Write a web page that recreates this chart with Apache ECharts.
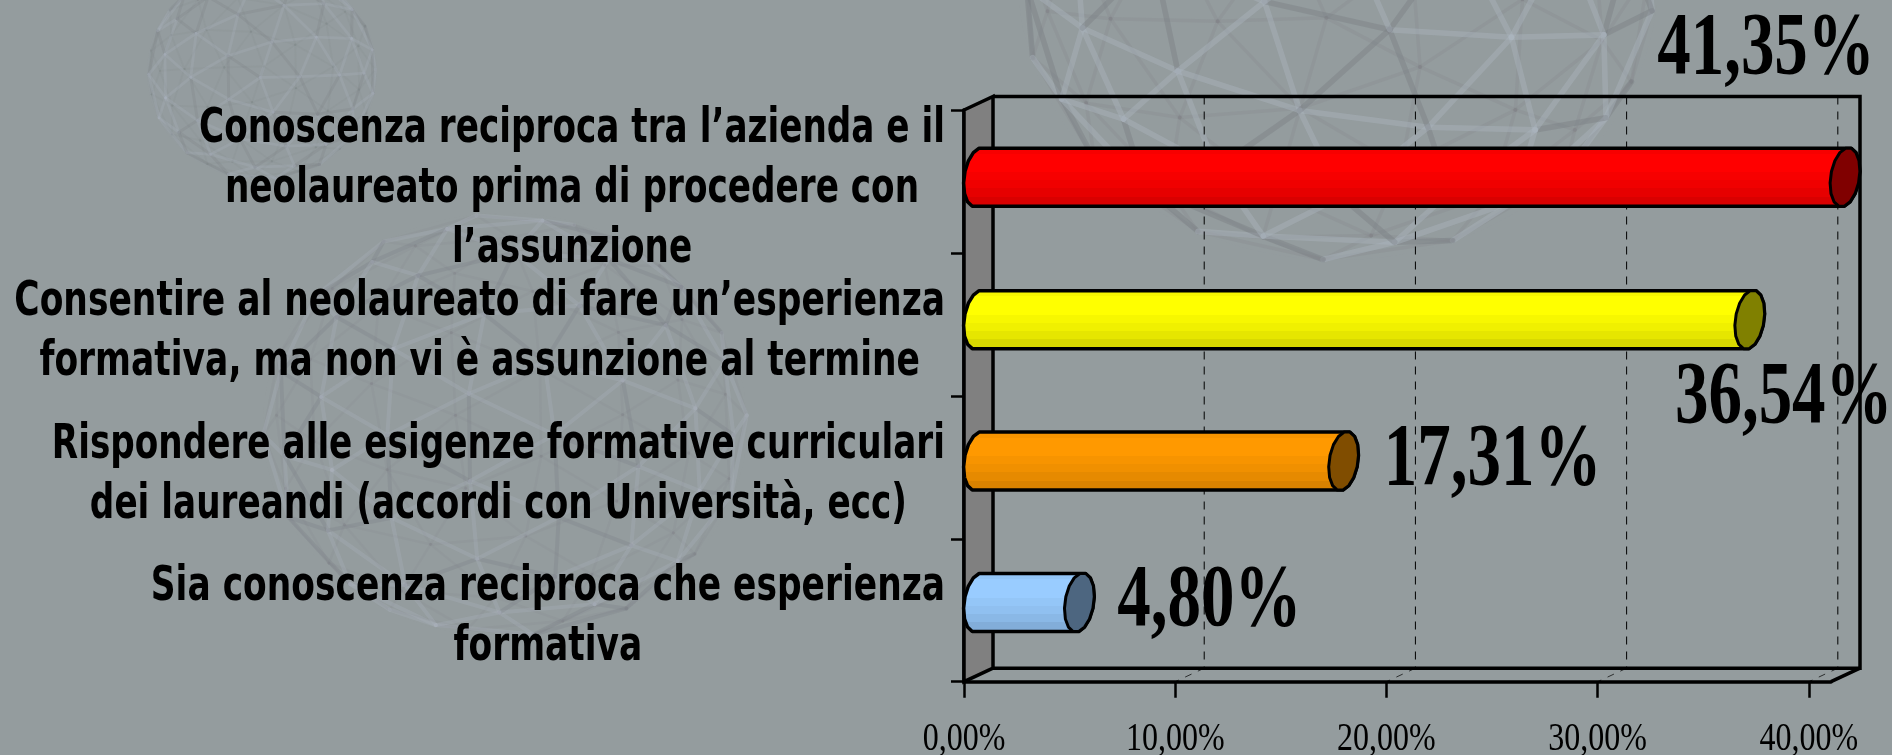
<!DOCTYPE html>
<html>
<head>
<meta charset="utf-8">
<style>html,body{margin:0;padding:0;background:#949c9e}#c{width:1892px;height:755px}</style>
<script src="https://cdn.jsdelivr.net/npm/echarts@6/dist/echarts.min.js"></script>
</head>
<body>
<div id="c"></div>
<script>
// ---------- data ----------
const categories = [
  "Conoscenza reciproca tra l\u2019azienda e il\nneolaureato prima di procedere con\nl\u2019assunzione",
  "Consentire al neolaureato di fare un\u2019esperienza\nformativa, ma non vi è assunzione al termine",
  "Rispondere alle esigenze formative curriculari\ndei laureandi (accordi con Università, ecc)",
  "Sia conoscenza reciproca che esperienza\nformativa"
];
const values = [41.35, 36.54, 17.31, 4.80];
const valueLabels = ["41,35%", "36,54%", "17,31%", "4,80%"];
const tickValues = [0, 10, 20, 30, 40];
const tickLabels = ["0,00%", "10,00%", "20,00%", "30,00%", "40,00%"];
const axisMax = 41.05;

// ---------- styling ----------
const barColors = [[255,0,0],[255,255,0],[255,153,0],[153,204,255]];
const labelShift = [[-79,-127],[34,79],[149,0],[130,0]];
const barNudge = [2.5,2,0.5,-1];
const labelNudge = [8,8,8,7];
const catWidthAdj = [1,1.007,1,1.006];
const DX = 29, DY = -13.5, BAR_H = 58, RX = 14.5, SKEW = 3.5;
const BG = '#949c9e', INK = '#000';

const mctx = document.createElement('canvas').getContext('2d');
function measure(font, s){ mctx.font = font; return mctx.measureText(s).width; }
const CAT_FONT = 'bold 36px "DejaVu Sans"';
const VAL_FONT = 'bold 66px "Liberation Serif"';
const TICK_FONT = '32px "Liberation Serif"';
const catSX = 746 / measure(CAT_FONT, categories[0].split('\n')[0]);
const CAT_SY = 1.33, CAT_LINE = 60, CAT_RIGHT = 945;
const VAL_SX = 1.015, VAL_SY = 1.345, TICK_SY = 1.28;

function shade(c, k){ return 'rgb(' + c.map(v => Math.round(v * k)).join(',') + ')'; }
function bands(c){
  const seq = [[0,.9],[.05,.97],[.12,1],[.2,1],[.3,1],[.42,.97],[.55,.94],[.68,.9],[.82,.85],[1,.8]];
  const out = [];
  seq.forEach((s, i) => {
    out.push({offset: s[0], color: shade(c, s[1])});
    if (i < seq.length - 1) out.push({offset: seq[i+1][0], color: shade(c, s[1])});
  });
  return out;
}
function capPoints(cx, cy, from, to, step){
  const pts = [];
  const ry = BAR_H / 2 / Math.sin(78.75 * Math.PI / 180);
  for (let a = from; a <= to + 0.01; a += step){
    const t = a * Math.PI / 180, s = Math.sin(t);
    pts.push([cx + RX * Math.cos(t) - SKEW * s, cy + ry * s]);
  }
  return pts;
}

// ---------- faint geodesic spheres of the slide background ----------
const G = (1 + Math.sqrt(5)) / 2;
const icoV = [[-1,G,0],[1,G,0],[-1,-G,0],[1,-G,0],[0,-1,G],[0,1,G],[0,-1,-G],[0,1,-G],[G,0,-1],[G,0,1],[-G,0,-1],[-G,0,1]];
const icoF = [[0,11,5],[0,5,1],[0,1,7],[0,7,10],[0,10,11],[1,5,9],[5,11,4],[11,10,2],[10,7,6],[7,1,8],[3,9,4],[3,4,2],[3,2,6],[3,6,8],[3,8,9],[4,9,5],[2,4,11],[6,2,10],[8,6,7],[9,8,1]];
function norm(p){ const l = Math.hypot(p[0],p[1],p[2]); return [p[0]/l,p[1]/l,p[2]/l]; }
function geodesicEdges(f){
  const map = new Map();
  const add = (a, b) => {
    const ka = a.map(v => v.toFixed(4)).join(), kb = b.map(v => v.toFixed(4)).join();
    map.set(ka < kb ? ka + '|' + kb : kb + '|' + ka, [a, b]);
  };
  icoF.forEach(tri => {
    const [A,B,C] = tri.map(i => icoV[i]);
    const P = (i, j) => {
      const k = f - i - j;
      return norm([0,1,2].map(d => (A[d]*k + B[d]*i + C[d]*j) / f));
    };
    for (let i = 0; i < f; i++) for (let j = 0; j < f - i; j++){
      add(P(i,j), P(i+1,j));
      add(P(i,j), P(i,j+1));
      add(P(i+1,j), P(i,j+1));
    }
  });
  return Array.from(map.values());
}
function rot(p, ax, az){
  let [x,y,z] = p;
  const c1 = Math.cos(ax), s1 = Math.sin(ax);
  [y,z] = [y*c1 - z*s1, y*s1 + z*c1];
  const c2 = Math.cos(az), s2 = Math.sin(az);
  [x,y] = [x*c2 - y*s2, x*s2 + y*c2];
  return [x,y,z];
}
function sphere(cx, cy, rx, ry, lw, alpha, freq, ax, az){
  const els = [{type:'ellipse', silent:true, z:-6, shape:{cx,cy,rx,ry}, style:{fill:'rgba(160,165,176,'+(alpha*0.12)+')', stroke:null}}];
  const edges = geodesicEdges(freq);
  // back edges first, so the front struts lie on top
  edges.map(e => [rot(e[0],ax,az), rot(e[1],ax,az)])
    .sort((a, b) => (a[0][2] + a[1][2]) - (b[0][2] + b[1][2]))
    .forEach((e, idx) => {
      const front = e[0][2] + e[1][2] > 0;
      const dark = idx % 3 === 0;
      const col = front ? (dark ? 'rgba(122,127,132,' : 'rgba(172,180,190,') : 'rgba(125,130,135,';
      els.push({type:'line', silent:true, z: front ? -4 : -5,
        shape:{x1:cx+rx*e[0][0], y1:cy+ry*e[0][1], x2:cx+rx*e[1][0], y2:cy+ry*e[1][1]},
        style:{stroke:col+(front?alpha:alpha*0.45)+')', lineWidth: front ? lw*1.6 : lw, lineCap:'round'}});
    });
  return els;
}
const bgElements = [].concat(
  sphere(262, 72, 115, 108, 1.8, 0.25, 3, 0.5, 0.3),
  sphere(505, 425, 242, 212, 2.5, 0.28, 3, 0.9, 0.5),
  sphere(1338, -22, 320, 282, 3.5, 0.42, 3, 0.7, 0.25)
);

// ---------- chart ----------
const chart = echarts.init(document.getElementById('c'), null, {renderer:'canvas'});
chart.setOption({
  backgroundColor: BG,
  animation: false,
  graphic: {elements: bgElements},
  grid: {left: 964, right: 61, top: 110, bottom: 73.3, containLabel: false},
  xAxis: {
    type: 'value', min: 0, max: axisMax, interval: 10,
    axisLine: {show: true, onZero: false, lineStyle: {color: INK, width: 3.5}},
    axisTick: {show: true, length: 16, customValues: tickValues, lineStyle: {color: INK, width: 2.5}},
    axisLabel: {show: false},
    splitLine: {show: false}
  },
  yAxis: {
    type: 'category', inverse: true, data: categories,
    axisLine: {show: true, lineStyle: {color: INK, width: 3.5}},
    axisTick: {show: true, length: 13, alignWithLabel: false, lineStyle: {color: INK, width: 2.5}},
    axisLabel: {show: false},
    splitLine: {show: false}
  },
  series: [
    { // box: side wall, back wall, floor edges and gridlines
      type: 'custom', name: 'frame', coordinateSystem: 'cartesian2d', z: 2, clip: false, silent: true,
      data: tickValues.map(v => [v, 0]),
      renderItem(params, api){
        const v = api.value(0);
        const nCat = categories.length;
        const ft = api.coord([v, 0]);
        const band = api.size([0, 1])[1];
        const top = ft[1] - band / 2, bot = top + band * nCat;
        const x = ft[0];
        const kids = [];
        if (v > 0){
          kids.push({type:'line', shape:{x1:x+DX,y1:top+DY,x2:x+DX,y2:bot+DY}, style:{stroke:INK,lineWidth:1,lineDash:[8,7]}});
          kids.push({type:'line', shape:{x1:x+DX,y1:bot+DY,x2:x,y2:bot}, style:{stroke:'rgba(0,0,0,.7)',lineWidth:1,lineDash:[7,7]}});
        } else {
          const xr = api.coord([axisMax, 0])[0];
          kids.push({type:'polygon', shape:{points:[[x,top],[x+DX,top+DY],[x+DX,bot+DY],[x,bot]]}, style:{fill:'#808080',stroke:INK,lineWidth:3.5,lineJoin:'miter'}});
          kids.push({type:'polyline', shape:{points:[[x+DX,bot+DY],[xr+DX,bot+DY],[xr+DX,top+DY],[x+DX,top+DY]]}, style:{fill:null,stroke:INK,lineWidth:3.5}});
          kids.push({type:'line', shape:{x1:xr,y1:bot,x2:xr+DX,y2:bot+DY}, style:{stroke:INK,lineWidth:3.5}});
        }
        return {type:'group', children:kids};
      }
    },
    { // cylinders with value labels
      type: 'custom', name: 'values', coordinateSystem: 'cartesian2d', z: 3, clip: false, silent: true,
      encode: {x: 0, y: 1},
      data: values.map((v, i) => [v, i]),
      renderItem(params, api){
        const i = api.value(1), v = Math.min(api.value(0), axisMax);
        const c0 = api.coord([0, i]), c1 = api.coord([v, i]);
        const cy = c0[1] + DY / 2 + barNudge[i];
        const x0 = c0[0] + DX / 2, x1 = c1[0] + DX / 2 - 0.5;
        const body = capPoints(x0, cy, 101.25, 258.75, 22.5).concat(capPoints(x1, cy, -78.75, 78.75, 22.5));
        const cap = capPoints(x1, cy, 11.25, 348.75, 22.5);
        const c = barColors[i];
        return {type:'group', children:[
          {type:'polygon', shape:{points:body}, style:{
            fill:{type:'linear',x:0,y:0,x2:0,y2:1,colorStops:bands(c)}, stroke:INK, lineWidth:3.5, lineJoin:'round'}},
          {type:'polygon', shape:{points:cap}, style:{fill:shade(c,0.5), stroke:INK, lineWidth:3, lineJoin:'round'}},
          {type:'text', x:x1 + labelShift[i][0], y:cy + labelShift[i][1], scaleX:VAL_SX, scaleY:VAL_SY,
            style:{text:valueLabels[i], font:VAL_FONT, fill:INK, textAlign:'center', textVerticalAlign:'middle'}}
        ]};
      }
    },
    { // category labels
      type: 'custom', name: 'categories', coordinateSystem: 'cartesian2d', z: 4, clip: false, silent: true,
      data: categories.map((_, i) => [0, i]),
      renderItem(params, api){
        const i = api.value(1);
        const lines = categories[i].split('\n');
        const cy = api.coord([0, i])[1] + labelNudge[i];
        const sx = catSX * catWidthAdj[i];
        const w = Math.max.apply(null, lines.map(s => measure(CAT_FONT, s))) * sx;
        const cx = CAT_RIGHT - w / 2;
        return {type:'group', children: lines.map((s, k) => ({
          type:'text', x:cx, y:cy + (k - (lines.length - 1) / 2) * CAT_LINE, scaleX:sx, scaleY:CAT_SY,
          style:{text:s, font:CAT_FONT, fill:INK, textAlign:'center', textVerticalAlign:'middle'}
        }))};
      }
    },
    { // value-axis tick labels
      type: 'custom', name: 'ticks', coordinateSystem: 'cartesian2d', z: 4, clip: false, silent: true,
      data: tickValues.map((v, i) => [v, categories.length - 1, i]),
      renderItem(params, api){
        const p = api.coord([api.value(0), api.value(1)]);
        const band = api.size([0, 1])[1];
        return {type:'text', x:p[0], y:p[1] + band / 2 + 58, scaleX:1, scaleY:TICK_SY,
          style:{text:tickLabels[api.value(2)], font:TICK_FONT, fill:INK, textAlign:'center', textVerticalAlign:'middle'}};
      }
    }
  ]
});
</script>
</body>
</html>
